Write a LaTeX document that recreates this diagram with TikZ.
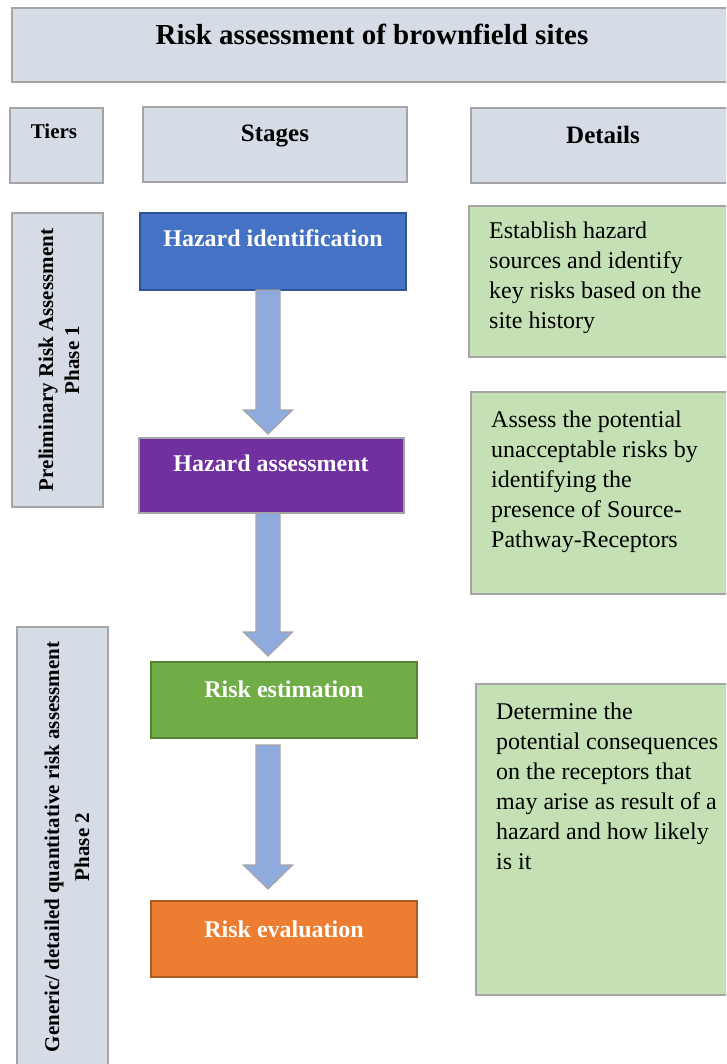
\documentclass[tikz,border=0pt]{standalone}
\usepackage{fontspec}
\setmainfont{Liberation Serif}
\usetikzlibrary{calc}

\definecolor{hdrgray}{HTML}{D6DCE5}
\definecolor{edgegray}{HTML}{A5A5A5}
\definecolor{detailgreen}{HTML}{C5E0B4}
\definecolor{arrowblue}{HTML}{8FAADC}
\definecolor{idblue}{HTML}{4472C4}
\definecolor{idblueedge}{HTML}{2F5597}
\definecolor{asspurple}{HTML}{7030A0}
\definecolor{estgreen}{HTML}{70AD47}
\definecolor{estgreenedge}{HTML}{548235}
\definecolor{evalorange}{HTML}{ED7D31}
\definecolor{evalorangeedge}{HTML}{AE5A21}

% block arrow from the bottom of one stage box to the top of the next
% #1 upper node, #2 lower node, #3 gap below #1, #4 gap above #2
\newcommand\stagearrow[4]{%
  \draw[arrowshape] let \p1=($(#1.south -| ax)+(0,#3)$),
                        \p2=($(#2.north -| ax)-(0,#4)$) in
    (\x1-12pt,\y1) -- (\x1+12pt,\y1) -- (\x1+12pt,\y2+24pt)
    -- (\x1+24.5pt,\y2+24pt) -- (\x1,\y2) -- (\x1-24.5pt,\y2+24pt)
    -- (\x1-12pt,\y2+24pt) -- cycle;}

\begin{document}
\begin{tikzpicture}[x=1pt,y=-1pt,
  box/.style={draw, line width=1.5pt, inner sep=0pt, outer sep=0pt, anchor=north west},
  graybox/.style={box, fill=hdrgray, draw=edgegray},
  detailbox/.style={box, fill=detailgreen, draw=edgegray},
  stagebox/.style={box, line width=2pt},
  arrowshape/.style={fill=arrowblue, draw=edgegray, line width=1.2pt, line join=miter},
  titletext/.style={font=\bfseries\fontsize{29}{34}\selectfont, anchor=base, inner sep=0pt},
  hdrtext/.style={font=\bfseries\fontsize{25}{30}\selectfont, anchor=base, inner sep=0pt},
  tierhdr/.style={font=\bfseries\fontsize{21}{26}\selectfont, anchor=base, inner sep=0pt},
  stagetext/.style={font=\bfseries\fontsize{24}{29}\selectfont, text=white, anchor=base, inner sep=0pt},
  bodytext/.style={font=\fontsize{24}{30}\selectfont, align=left, anchor=north west, inner sep=0pt},
  tiertext/.style={font=\bfseries\fontsize{21}{#1}\selectfont, rotate=90, align=center, inner sep=0pt}
]
\clip (0,0) rectangle (726,1064);
\fill[white] (0,0) rectangle (726,1064);
\coordinate (ax) at (268,0);

% title and column headers
\node[graybox, minimum width=718pt, minimum height=74pt] (title) at (12,8) {};
\node[titletext] (titlelbl) at (372,45) {Risk assessment of brownfield sites};

\node[graybox, minimum width=93pt, minimum height=75pt] (tiers) at (10,108) {};
\node[tierhdr] (tierslbl) at (54,139) {Tiers};
\node[graybox, minimum width=264pt, minimum height=75pt] (stages) at (143,107) {};
\node[hdrtext] (stageslbl) at (275,142) {Stages};
\node[graybox, minimum width=259pt, minimum height=75pt] (details) at (471,108) {};
\node[hdrtext] (detailslbl) at (603,144) {Details};

% tiers
\node[graybox, minimum width=91pt, minimum height=294pt] (phase1) at (12,213) {};
\node[tiertext=26] (phase1lbl) at (59,360) {Preliminary Risk Assessment\\Phase 1};
\node[graybox, minimum width=91pt, minimum height=450pt] (phase2) at (17,627) {};
\node[tiertext=30] (phase2lbl) at (67,847) {Generic/ detailed quantitative risk assessment\\Phase 2};

% stages
\node[stagebox, fill=idblue, draw=idblueedge, minimum width=266pt, minimum height=77pt] (hi) at (140,213) {};
\node[stagetext] (hilbl) at (273,247) {Hazard identification};
\node[stagebox, fill=asspurple, draw=edgegray, minimum width=265pt, minimum height=75pt] (ha) at (139,438) {};
\node[stagetext] (halbl) at (271,471) {Hazard assessment};
\node[stagebox, fill=estgreen, draw=estgreenedge, minimum width=266pt, minimum height=76pt] (re) at (151,662) {};
\node[stagetext] (relbl) at (284,697) {Risk estimation};
\node[stagebox, fill=evalorange, draw=evalorangeedge, minimum width=266pt, minimum height=76pt] (rv) at (151,901) {};
\node[stagetext] (rvlbl) at (284,937) {Risk evaluation};

\stagearrow{hi}{ha}{0}{4}
\stagearrow{ha}{re}{0}{6}
\stagearrow{re}{rv}{7}{12}

% details
\node[detailbox, minimum width=261pt, minimum height=151pt] (d1) at (469,206) {};
\node[bodytext] (d1txt) at (489,222) {Establish hazard\\sources and identify\\key risks based on the\\site history};
\node[detailbox, minimum width=259pt, minimum height=202pt] (d2) at (471,392) {};
\node[bodytext] (d2txt) at (491,411) {Assess the potential\\unacceptable risks by\\identifying the\\presence of Source-\\Pathway-Receptors};
\node[detailbox, minimum width=254pt, minimum height=311pt] (d3) at (476,684) {};
\node[bodytext] (d3txt) at (496,703) {Determine the\\potential consequences\\on the receptors that\\may arise as result of a\\hazard and how likely\\is it};
\end{tikzpicture}
\end{document}
